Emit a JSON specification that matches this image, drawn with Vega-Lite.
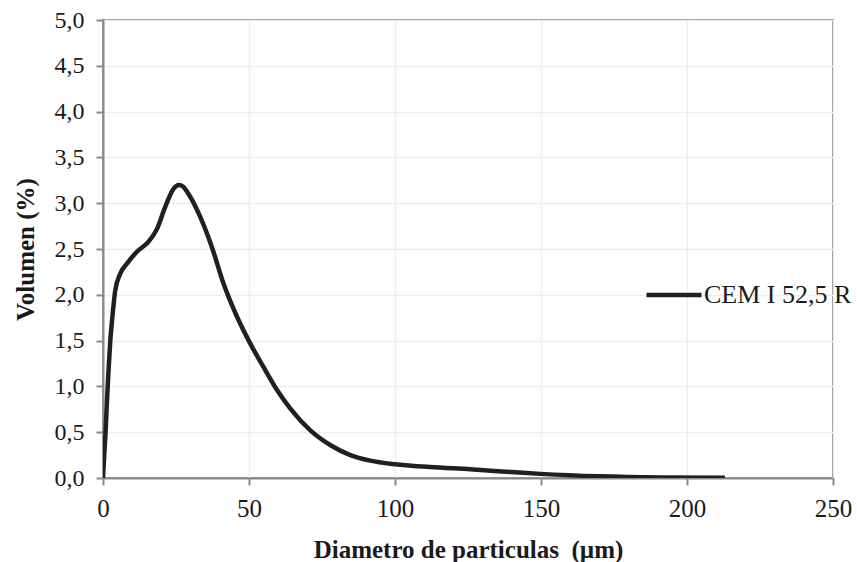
{
  "$schema": "https://vega.github.io/schema/vega-lite/v6.json",
  "width": 730,
  "height": 458,
  "autosize": "none",
  "padding": {"left": 103, "top": 20, "right": 24, "bottom": 84},
  "background": "white",
  "config": {
    "font": "Liberation Serif",
    "view": {"stroke": "#8a8a8c", "strokeWidth": 2}
  },
  "data": {
    "values": [
      {"d": 0, "v": 0, "serie": "CEM I 52,5 R"},
      {"d": 0.5, "v": 0.3, "serie": "CEM I 52,5 R"},
      {"d": 0.8, "v": 0.45, "serie": "CEM I 52,5 R"},
      {"d": 1.3, "v": 0.8, "serie": "CEM I 52,5 R"},
      {"d": 1.9, "v": 1.18, "serie": "CEM I 52,5 R"},
      {"d": 2.5, "v": 1.5, "serie": "CEM I 52,5 R"},
      {"d": 3.1, "v": 1.72, "serie": "CEM I 52,5 R"},
      {"d": 4.2, "v": 2.05, "serie": "CEM I 52,5 R"},
      {"d": 5.9, "v": 2.23, "serie": "CEM I 52,5 R"},
      {"d": 8.2, "v": 2.34, "serie": "CEM I 52,5 R"},
      {"d": 11.6, "v": 2.47, "serie": "CEM I 52,5 R"},
      {"d": 15.6, "v": 2.58, "serie": "CEM I 52,5 R"},
      {"d": 18.5, "v": 2.72, "serie": "CEM I 52,5 R"},
      {"d": 21.3, "v": 2.96, "serie": "CEM I 52,5 R"},
      {"d": 24.2, "v": 3.16, "serie": "CEM I 52,5 R"},
      {"d": 25.9, "v": 3.2, "serie": "CEM I 52,5 R"},
      {"d": 27.5, "v": 3.18, "serie": "CEM I 52,5 R"},
      {"d": 29.3, "v": 3.1, "serie": "CEM I 52,5 R"},
      {"d": 33.3, "v": 2.85, "serie": "CEM I 52,5 R"},
      {"d": 37.3, "v": 2.52, "serie": "CEM I 52,5 R"},
      {"d": 41.3, "v": 2.12, "serie": "CEM I 52,5 R"},
      {"d": 45.9, "v": 1.76, "serie": "CEM I 52,5 R"},
      {"d": 50.4, "v": 1.47, "serie": "CEM I 52,5 R"},
      {"d": 55, "v": 1.21, "serie": "CEM I 52,5 R"},
      {"d": 59.6, "v": 0.96, "serie": "CEM I 52,5 R"},
      {"d": 64.1, "v": 0.76, "serie": "CEM I 52,5 R"},
      {"d": 71, "v": 0.52, "serie": "CEM I 52,5 R"},
      {"d": 77.8, "v": 0.36, "serie": "CEM I 52,5 R"},
      {"d": 84.7, "v": 0.25, "serie": "CEM I 52,5 R"},
      {"d": 91.5, "v": 0.19, "serie": "CEM I 52,5 R"},
      {"d": 100, "v": 0.15, "serie": "CEM I 52,5 R"},
      {"d": 112, "v": 0.12, "serie": "CEM I 52,5 R"},
      {"d": 125.8, "v": 0.095, "serie": "CEM I 52,5 R"},
      {"d": 139.5, "v": 0.066, "serie": "CEM I 52,5 R"},
      {"d": 149.8, "v": 0.045, "serie": "CEM I 52,5 R"},
      {"d": 170, "v": 0.018, "serie": "CEM I 52,5 R"},
      {"d": 191, "v": 0.006, "serie": "CEM I 52,5 R"},
      {"d": 213, "v": 0.003, "serie": "CEM I 52,5 R"}
    ]
  },
  "mark": {"type": "line", "interpolate": "monotone", "strokeWidth": 4.5, "clip": true},
  "encoding": {
    "x": {
      "field": "d",
      "type": "quantitative",
      "scale": {"domain": [0, 250], "nice": false},
      "axis": {
        "values": [0, 50, 100, 150, 200, 250],
        "labelFlush": false,
        "title": "Diametro de particulas \u00a0(µm)",
        "titleFont": "Liberation Serif",
        "titleFontSize": 25,
        "titleFontWeight": "bold",
        "titleColor": "#1a1a1a",
        "titlePadding": 16,
        "labelFont": "Liberation Serif",
        "labelFontSize": 25,
        "labelColor": "#1a1a1a",
        "labelPadding": 11,
        "domainColor": "#8a8a8c",
        "domainWidth": 2,
        "tickColor": "#8a8a8c",
        "tickWidth": 2,
        "tickSize": 7,
        "gridColor": "#eeeeee",
        "gridWidth": 1.5
      }
    },
    "y": {
      "field": "v",
      "type": "quantitative",
      "scale": {"domain": [0, 5], "nice": false},
      "axis": {
        "values": [0, 0.5, 1, 1.5, 2, 2.5, 3, 3.5, 4, 4.5, 5],
        "labelFlush": false,
        "labelExpr": "replace(format(datum.value, '.1f'), '.', ',')",
        "title": "Volumen (%)",
        "titleFont": "Liberation Serif",
        "titleFontSize": 25,
        "titleFontWeight": "bold",
        "titleColor": "#1a1a1a",
        "titlePadding": 16,
        "labelFont": "Liberation Serif",
        "labelFontSize": 24,
        "labelColor": "#1a1a1a",
        "labelPadding": 12,
        "domainColor": "#8a8a8c",
        "domainWidth": 2,
        "tickColor": "#8a8a8c",
        "tickWidth": 2,
        "tickSize": 7,
        "gridColor": "#eeeeee",
        "gridWidth": 1.5
      }
    },
    "color": {
      "field": "serie",
      "type": "nominal",
      "scale": {"range": ["#231f20"]},
      "legend": {
        "title": null,
        "orient": "none",
        "legendX": 541,
        "legendY": 245,
        "symbolType": "stroke",
        "symbolSize": 3025,
        "symbolStrokeWidth": 4.5,
        "labelFont": "Liberation Serif",
        "labelFontSize": 26,
        "labelColor": "#1a1a1a",
        "labelOffset": 0,
        "labelLimit": 300
      }
    }
  }
}
